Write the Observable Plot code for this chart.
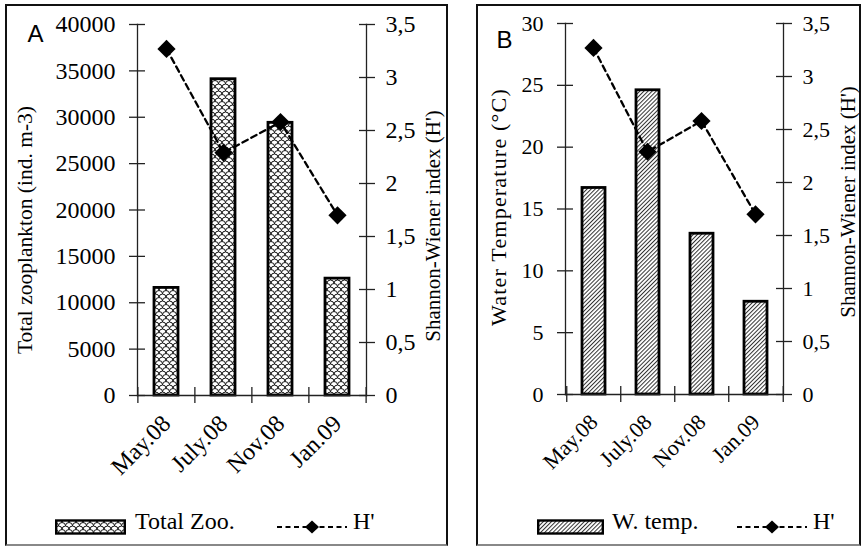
<!DOCTYPE html>
<html><head><meta charset="utf-8">
<script src="https://cdn.jsdelivr.net/npm/d3@7"></script>
<script src="https://cdn.jsdelivr.net/npm/@observablehq/plot@0.6"></script>
<style>
body{margin:0;background:#fff;}
#page{position:relative;width:863px;height:547px;overflow:hidden;font-family:"Liberation Serif","Times New Roman",serif;background:#fff;}
.panel{position:absolute;border:2px solid #111;border-bottom-color:#888;box-sizing:border-box;}
.lg{position:absolute;font-size:24px;color:#000;white-space:nowrap;line-height:1;font-family:"Liberation Serif","Times New Roman",serif;}
</style></head><body>
<svg width="0" height="0" style="position:absolute">
<defs>
<pattern id="zooPat" patternUnits="userSpaceOnUse" width="7" height="7">
<rect width="7" height="7" fill="#fff"/>
<path d="M0,3.5 A3.5,3.5 0 0 1 7,3.5 M-3.5,7 A3.5,3.5 0 0 1 3.5,7 M3.5,7 A3.5,3.5 0 0 1 10.5,7 M-3.5,0 A3.5,3.5 0 0 1 3.5,0 M3.5,0 A3.5,3.5 0 0 1 10.5,0" fill="none" stroke="#111" stroke-width="1"/>
</pattern>
<pattern id="hatchPat" patternUnits="userSpaceOnUse" width="2.9" height="2.9" patternTransform="rotate(45)">
<rect width="2.9" height="2.9" fill="#fff"/>
<line x1="0.5" y1="0" x2="0.5" y2="2.9" stroke="#333" stroke-width="1"/>
</pattern>
</defs></svg>
<div id="page"></div>
<script>
// ---- data ----
const months = ["May.08", "July.08", "Nov.08", "Jan.09"];
const totalZoo = [11600, 34100, 29400, 12600];
const waterTemp = [16.7, 24.6, 13.0, 7.5];
const shannon = [3.27, 2.29, 2.58, 1.70];
const zooTicks = [0, 5000, 10000, 15000, 20000, 25000, 30000, 35000, 40000];
const tempTicks = [0, 5, 10, 15, 20, 25, 30];
const hTicks = [0, 0.5, 1, 1.5, 2, 2.5, 3, 3.5];

const SERIF = "Liberation Serif, Times New Roman, serif";
const SANS = "Liberation Sans, Arial, sans-serif";
const page = document.getElementById("page");
const commaFmt = d => String(d).replace(".", ",");
const intFmt = d => String(d);

function addLegend(items) {
  for (const it of items) {
    const el = document.createElement("div");
    el.className = "lg";
    el.style.left = it.left + "px";
    el.style.top = it.top + "px";
    el.innerHTML = it.html;
    page.appendChild(el);
  }
}

function makePanel(cfg) {
  const {box, L, W, H, x0, x1, yTop, yZero, values, yMax, yTicks, pat, tickFont,
         leftTitle, leftFont, leftDx, leftDy, leftSpacing, rightFont, rightDx, rightDy,
         letter, letterDx, letterDy} = cfg;
  const border = document.createElement("div");
  border.className = "panel";
  Object.assign(border.style, {left: box[0] + "px", top: box[1] + "px", width: box[2] + "px", height: box[3] + "px"});
  page.appendChild(border);

  const mL = x0 - L, mR = L + W - x1, mT = yTop, mB = H - yZero;
  const step = (x1 - x0) / months.length;
  const barData = months.map((m, i) => ({month: m, value: values[i]}));
  const hData = months.map((m, i) => ({month: m, h: shannon[i]}));
  const common = {
    width: W, height: H, marginLeft: mL, marginRight: mR, marginTop: mT, marginBottom: mB,
    style: {background: "transparent", fontFamily: SERIF, fontSize: tickFont + "px", color: "#000", overflow: "visible"},
    x: {domain: months, paddingInner: 0.58, paddingOuter: 0.29, axis: null}
  };
  const axisLine = {stroke: "#222", strokeWidth: 1.3};
  const base = Plot.plot({
    ...common,
    y: {domain: [0, yMax], axis: null},
    marks: [
      Plot.barY(barData, {x: "month", y: "value", fill: `url(#${pat})`, stroke: "#000", strokeWidth: 2.8}),
      Plot.frame({anchor: "left", ...axisLine}),
      Plot.frame({anchor: "bottom", ...axisLine}),
      Plot.axisY({ticks: yTicks, tickSize: 16, dx: 8, tickFormat: () => "", label: null, ...axisLine}),
      Plot.axisY({ticks: yTicks, tickSize: 0, tickPadding: 22, tickFormat: intFmt, label: null, fontFamily: SERIF}),
      Plot.axisX({ticks: months, tickSize: 16, dy: -8, dx: -step / 2, tickFormat: () => "", label: null, ...axisLine}),
      Plot.axisX({ticks: months.slice(-1), tickSize: 16, dy: -8, dx: step / 2, tickFormat: () => "", label: null, ...axisLine}),
      Plot.axisX({ticks: months, tickSize: 0, tickPadding: 24, tickRotate: -45, label: null, fontFamily: SERIF}),
      Plot.text([leftTitle], {frameAnchor: "left", rotate: -90, dx: leftDx, dy: leftDy, fontSize: leftFont, fontFamily: SERIF, textAnchor: "middle", lineAnchor: "middle"}),
      Plot.text([letter], {frameAnchor: "top-left", dx: letterDx, dy: letterDy, fontSize: 24, fontFamily: SANS, textAnchor: "start", lineAnchor: "middle"})
    ]
  });
  if (leftSpacing) {
    d3.select(base).selectAll("text").filter(function () { return this.textContent === leftTitle; })
      .style("letter-spacing", leftSpacing + "px");
  }
  const over = Plot.plot({
    ...common,
    y: {domain: [0, 3.5], axis: null},
    marks: [
      Plot.frame({anchor: "right", ...axisLine}),
      Plot.axisY({anchor: "right", ticks: hTicks, tickSize: 16, dx: -8, tickFormat: () => "", label: null, ...axisLine}),
      Plot.axisY({anchor: "right", ticks: hTicks, tickSize: 0, tickPadding: 19, tickFormat: commaFmt, label: null, fontFamily: SERIF}),
      Plot.lineY(hData, {x: "month", y: "h", stroke: "#000", strokeWidth: 2.3, strokeDasharray: "6,4"}),
      Plot.dot(hData, {x: "month", y: "h", symbol: "diamond2", r: 8.2, fill: "#000", stroke: "none"}),
      Plot.text(["Shannon-Wiener index (H')"], {frameAnchor: "right", rotate: -90, dx: rightDx, dy: rightDy, fontSize: rightFont, fontFamily: SERIF, textAnchor: "middle", lineAnchor: "middle"})
    ]
  });
  for (const svg of [base, over]) {
    svg.style.position = "absolute";
    svg.style.left = L + "px";
    svg.style.top = "0px";
    page.appendChild(svg);
  }
}

makePanel({
  box: [5, 4, 443, 542], L: 5, W: 443, H: 480, x0: 137, x1: 366, yTop: 24, yZero: 395,
  values: totalZoo, yMax: 40000, yTicks: zooTicks, pat: "zooPat", tickFont: 24,
  leftTitle: "Total zooplankton (ind. m-3)", leftFont: 21.5, leftDx: -112, leftDy: 20, leftSpacing: 0,
  rightFont: 21, rightDx: 67, rightDy: 16,
  letter: "A", letterDx: -110, letterDy: 10
});
makePanel({
  box: [476, 4, 385, 542], L: 476, W: 385, H: 480, x0: 565, x1: 783, yTop: 23, yZero: 394,
  values: waterTemp, yMax: 30, yTicks: tempTicks, pat: "hatchPat", tickFont: 22,
  leftTitle: "Water Temperature (°C)", leftFont: 22, leftDx: -67, leftDy: -2, leftSpacing: 1.2,
  rightFont: 21, rightDx: 65, rightDy: -7,
  letter: "B", letterDx: -69, letterDy: 16.5
});

const lineSwatch = (w) => `<svg width="${w}" height="16" style="vertical-align:middle"><line x1="0" y1="8" x2="${w}" y2="8" stroke="#000" stroke-width="2" stroke-dasharray="5,3.5"/><path d="M${w/2},1.5 L${w/2+7},8 L${w/2},14.5 L${w/2-7},8Z" fill="#000"/></svg>`;
const barSwatch = (w, pat) => `<svg width="${w}" height="16" style="vertical-align:middle"><rect x="1.2" y="1.5" width="${w-2.4}" height="13" fill="url(#${pat})" stroke="#000" stroke-width="2.4"/></svg>`;
addLegend([
  {left: 55, top: 513, html: barSwatch(71, "zooPat")},
  {left: 135, top: 509, html: "Total Zoo."},
  {left: 277, top: 513, html: lineSwatch(70)},
  {left: 353, top: 509, html: "H'"},
  {left: 537, top: 513, html: barSwatch(67, "hatchPat")},
  {left: 612, top: 509, html: "W. temp."},
  {left: 737, top: 513, html: lineSwatch(70)},
  {left: 813, top: 509, html: "H'"}
]);
</script>
</body></html>
